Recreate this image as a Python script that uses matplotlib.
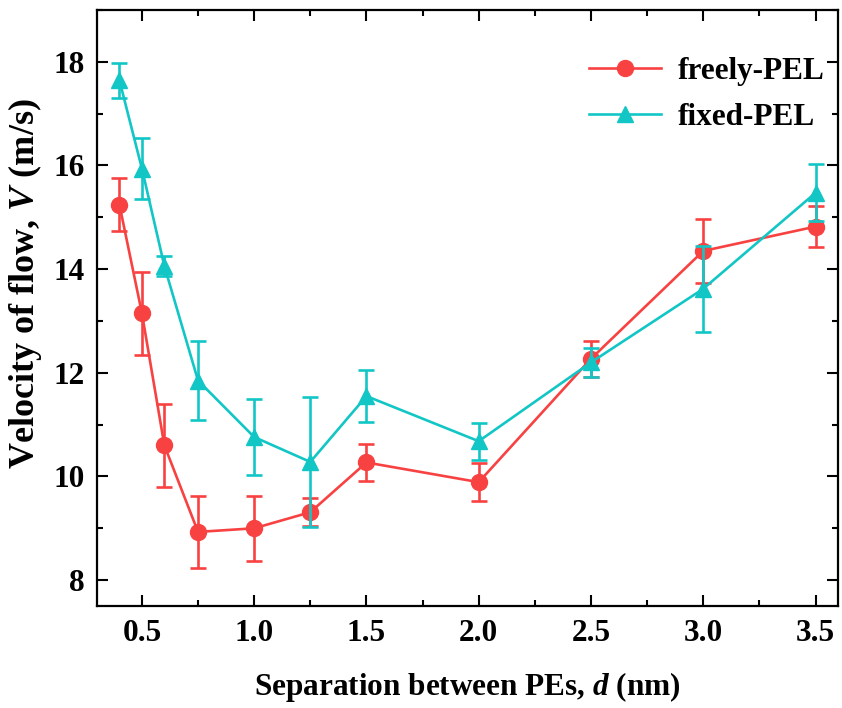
import matplotlib
matplotlib.use("Agg")
import matplotlib.pyplot as plt
from matplotlib.lines import Line2D
from matplotlib.ticker import MultipleLocator

# Separation between polyelectrolytes (nm)
d_nm = [0.4, 0.5, 0.6, 0.75, 1.0, 1.25, 1.5, 2.0, 2.5, 3.0, 3.5]

# Flow velocity (m/s) and standard deviations
freely_v = [15.24, 13.15, 10.60, 8.93, 9.00, 9.31, 10.27, 9.89, 12.27, 14.35, 14.82]
freely_err = [0.51, 0.80, 0.80, 0.69, 0.63, 0.27, 0.35, 0.36, 0.35, 0.61, 0.39]

fixed_v = [17.64, 15.94, 14.06, 11.85, 10.76, 10.28, 11.55, 10.68, 12.20, 13.62, 15.47]
fixed_err = [0.34, 0.58, 0.20, 0.77, 0.74, 1.25, 0.50, 0.36, 0.28, 0.83, 0.55]

RED = "#F84242"
CYAN = "#12C6C6"
FS = 22.5

plt.rcParams["font.family"] = ["Liberation Serif", "DejaVu Serif"]
plt.rcParams["font.weight"] = "bold"
plt.rcParams["mathtext.fontset"] = "custom"
plt.rcParams["mathtext.it"] = "Liberation Serif:italic:bold"
plt.rcParams["mathtext.rm"] = "Liberation Serif:bold"

fig = plt.figure(figsize=(8.42, 7.08), dpi=100)
ax = fig.add_axes([0.1152, 0.144, 0.880, 0.842])

common = dict(lw=1.9, capsize=6, capthick=1.9, elinewidth=1.9, markersize=11.5)
ax.errorbar(d_nm, freely_v, yerr=freely_err, color=RED, marker="o", zorder=3, **common)
ax.errorbar(d_nm, fixed_v, yerr=fixed_err, color=CYAN, marker="^", zorder=4, **common)

ax.set_xlim(0.3, 3.6)
ax.set_ylim(7.5, 19.0)
ax.set_xticks([0.5, 1.0, 1.5, 2.0, 2.5, 3.0, 3.5])
ax.set_xticklabels(["0.5", "1.0", "1.5", "2.0", "2.5", "3.0", "3.5"])
ax.xaxis.set_minor_locator(MultipleLocator(0.25))
ax.yaxis.set_major_locator(MultipleLocator(2))
ax.yaxis.set_minor_locator(MultipleLocator(1))

ax.tick_params(which="both", direction="in", top=True, right=True,
               width=1.5, labelsize=FS)
ax.tick_params(which="major", length=8, pad=9)
ax.tick_params(which="minor", length=4)
for s in ax.spines.values():
    s.set_linewidth(1.6)
for lbl in ax.get_xticklabels() + ax.get_yticklabels():
    lbl.set_fontweight("bold")

ax.set_xlabel(r"Separation between PEs, $d$ (nm)", fontsize=FS,
              fontweight="bold", labelpad=16)
ax.set_ylabel(r"Velocity of flow, $V$ (m/s)", fontsize=26,
              fontweight="bold")
ax.yaxis.set_label_coords(-0.072, 0.54)

handles = [
    Line2D([], [], color=RED, marker="o", lw=1.9, markersize=11.5),
    Line2D([], [], color=CYAN, marker="^", lw=1.9, markersize=11.5),
]
leg = ax.legend(handles, ["freely-PEL", "fixed-PEL"], loc="upper right",
                frameon=False, fontsize=FS, handlelength=2.3,
                handletextpad=0.55, labelspacing=0.55, borderpad=0,
                borderaxespad=0, bbox_to_anchor=(0.982, 0.921))
for t in leg.get_texts():
    t.set_fontweight("bold")

fig.savefig("out.png", dpi=100)
